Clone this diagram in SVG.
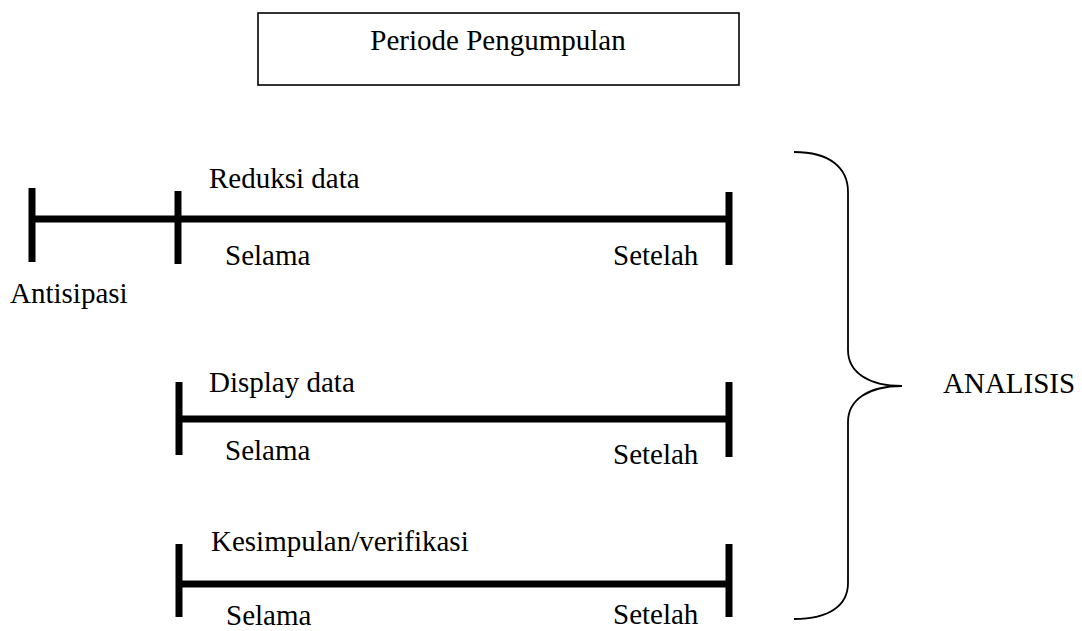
<svg xmlns="http://www.w3.org/2000/svg" width="1082" height="631" viewBox="0 0 1082 631">
<style>
text{font-family:"Liberation Serif","Times New Roman",serif;font-size:29px;fill:#000}
.bar{stroke:#000;stroke-width:7;fill:none}
.box{stroke:#000;stroke-width:1.6;fill:#fff}
.brace{stroke:#000;stroke-width:1.8;fill:none}
</style>
<rect width="1082" height="631" fill="#fff"/>
<g id="periode">
<rect class="box" x="258" y="13" width="481" height="72"/>
<text x="498" y="50" text-anchor="middle">Periode Pengumpulan</text>
</g>
<g id="connectors">
<line class="bar" x1="32" y1="219" x2="729" y2="219"/>
<line class="bar" x1="179" y1="419" x2="729" y2="419"/>
<line class="bar" x1="179" y1="584" x2="729" y2="584"/>
</g>
<g id="antisipasi">
<line class="bar" x1="32" y1="188" x2="32" y2="262"/>
<text x="10" y="303">Antisipasi</text>
</g>
<g id="reduksi">
<line class="bar" x1="178" y1="191" x2="178" y2="264"/>
<line class="bar" x1="729" y1="192" x2="729" y2="265"/>
<text x="209" y="188">Reduksi data</text>
<text x="225" y="265">Selama</text>
<text x="613" y="265">Setelah</text>
</g>
<g id="display">
<line class="bar" x1="179" y1="382" x2="179" y2="455"/>
<line class="bar" x1="729" y1="382" x2="729" y2="457"/>
<text x="209" y="392">Display data</text>
<text x="225" y="460">Selama</text>
<text x="613" y="464">Setelah</text>
</g>
<g id="kesimpulan">
<line class="bar" x1="179" y1="544" x2="179" y2="617"/>
<line class="bar" x1="729" y1="544" x2="729" y2="617"/>
<text x="211" y="551">Kesimpulan/verifikasi</text>
<text x="226" y="625">Selama</text>
<text x="613" y="624">Setelah</text>
</g>
<g id="analisis">
<path class="brace" d="M794,152 C830,152 848,168 848,192 L848,350 C848,372 868,386 902,386 C868,386 848,400 848,422 L848,583 C848,605 830,619 794,619"/>
<text x="943" y="393">ANALISIS</text>
</g>
</svg>
